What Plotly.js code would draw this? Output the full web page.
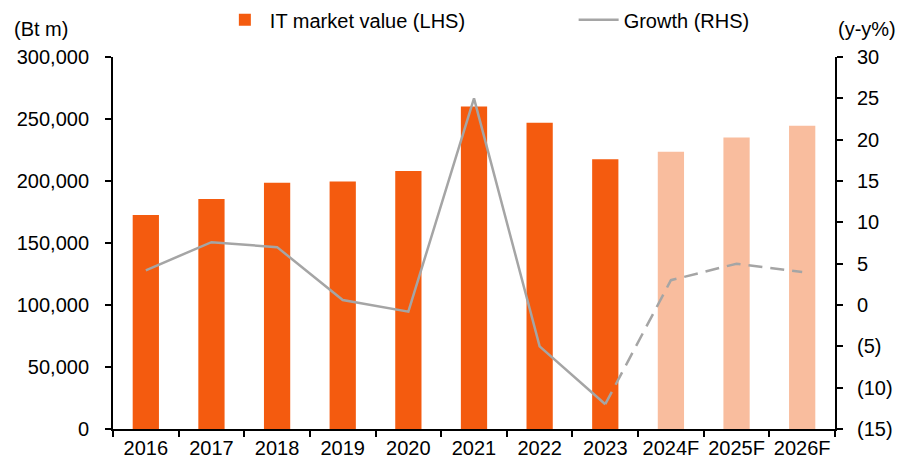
<!DOCTYPE html>
<html>
<head>
<meta charset="utf-8">
<script src="https://cdn.plot.ly/plotly-3.0.1.min.js"></script>
<style>body{margin:0;background:#fff}#chart{width:907px;height:463px}</style>
</head>
<body>
<div id="chart"></div>
<script>
var years = ['2016','2017','2018','2019','2020','2021','2022','2023','2024F','2025F','2026F']
var marketValue = [172500, 185500, 198500, 199500, 208000, 260000, 247000, 217500, 223500, 235000, 244500]
var growth = [4.2, 7.6, 7.0, 0.6, -0.8, 25.0, -5.0, -12.0, 3.0, 5.0, 4.0]
var actualCount = 8
var barColors = years.map(function (y, i) { return i < actualCount ? '#F45B0F' : '#F9BD9E' })

var rightTicks = [-15, -10, -5, 0, 5, 10, 15, 20, 25, 30]
var rightLabels = rightTicks.map(function (v) { return v < 0 ? '(' + (-v) + ')' : String(v) })

var font = {family: 'Liberation Sans, Arial, sans-serif', size: 20, color: '#000'}

var bars = {
  x: years, y: marketValue, type: 'bar', name: 'IT market value (LHS)',
  marker: {color: barColors}, yaxis: 'y', legend: 'legend'
}
var growthActual = {
  x: years.slice(0, actualCount), y: growth.slice(0, actualCount),
  type: 'scatter', mode: 'lines', name: 'Growth (RHS)', yaxis: 'y2', legend: 'legend2',
  line: {color: '#A5A5A5', width: 2.5}
}
var growthForecast = {
  x: years.slice(actualCount - 1), y: growth.slice(actualCount - 1),
  type: 'scatter', mode: 'lines', showlegend: false, yaxis: 'y2',
  line: {color: '#A5A5A5', width: 2.5, dash: '14px,8px'}
}

var legendBase = {
  orientation: 'h', xanchor: 'left', y: 1.1, yanchor: 'middle',
  font: font, bgcolor: 'rgba(0,0,0,0)', itemwidth: 40
}

var layout = {
  width: 907, height: 463,
  margin: {l: 113, r: 72, t: 57, b: 34, autoexpand: false},
  paper_bgcolor: '#fff', plot_bgcolor: '#fff',
  font: font,
  bargap: 0.6,
  showlegend: true,
  legend: Object.assign({}, legendBase, {x: 0.148}),
  legend2: Object.assign({}, legendBase, {x: 0.638}),
  xaxis: {
    type: 'category', showline: true, linecolor: '#000', linewidth: 2,
    ticks: 'outside', tickson: 'boundaries', ticklen: 6, tickwidth: 2, tickcolor: '#000',
    tickangle: 0, showgrid: false, zeroline: false
  },
  yaxis: {
    range: [0, 300000], dtick: 50000, tickformat: ',d',
    showline: true, linecolor: '#000', linewidth: 2,
    ticks: 'outside', ticklen: 6, tickwidth: 2, tickcolor: '#000',
    ticklabelstandoff: 12, showgrid: false, zeroline: false
  },
  yaxis2: {
    overlaying: 'y', side: 'right', range: [-15, 30],
    tickvals: rightTicks, ticktext: rightLabels,
    showline: true, linecolor: '#000', linewidth: 2,
    ticks: 'outside', ticklen: 6, tickwidth: 2, tickcolor: '#000',
    ticklabelstandoff: 10, showgrid: false, zeroline: false
  },
  annotations: [
    {text: '(Bt m)', xref: 'paper', yref: 'paper', x: -0.1, y: 1.075, xanchor: 'center', yanchor: 'middle', showarrow: false, font: font},
    {text: '(y-y%)', xref: 'paper', yref: 'paper', x: 1.045, y: 1.075, xanchor: 'center', yanchor: 'middle', showarrow: false, font: font}
  ]
}

Plotly.newPlot('chart', [bars, growthActual, growthForecast], layout, {displayModeBar: false, staticPlot: true})
</script>
</body>
</html>
